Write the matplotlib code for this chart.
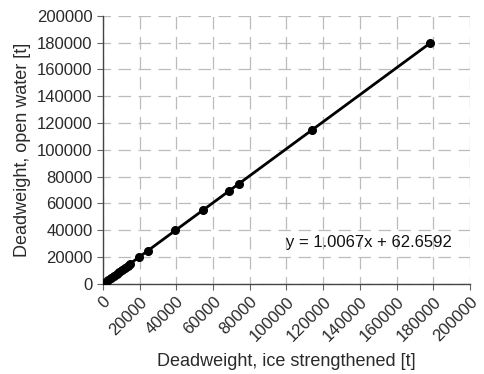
import matplotlib
matplotlib.use("Agg")
import matplotlib.pyplot as plt
import numpy as np

plt.rcParams['font.family'] = ['Liberation Sans', 'DejaVu Sans']

# Deadweight of ice-strengthened ships vs. open-water equivalents [t]
ice_dwt = [1500, 3000, 4500, 6000, 7500, 9000, 10500, 12000, 13500, 15000,
           19500, 24500, 39500, 54500, 69000, 74000, 113800, 178500]
slope = 1.0067
intercept = 62.6592
open_dwt = [slope * x + intercept for x in ice_dwt]

ticks = list(range(0, 200001, 20000))

fig = plt.figure(figsize=(4.85, 3.74), dpi=100)
ax = fig.add_axes([0.212, 0.241, 0.757, 0.717])

ax.plot(ice_dwt, open_dwt, color='black', lw=2, marker='o', ms=5.5, zorder=3)

ax.set_xlim(0, 200000)
ax.set_ylim(0, 200000)
ax.set_xticks(ticks)
ax.set_yticks(ticks)
ax.set_xticklabels([str(t) for t in ticks], rotation=45, ha='right',
                   rotation_mode='anchor', fontsize=12, color='#2a2a2a')
ax.set_yticklabels([str(t) for t in ticks], fontsize=12, color='#2a2a2a')
ax.tick_params(direction='out', length=4, width=0.8, color='#666666')

ax.grid(True, color='#bbbbbb', linestyle=(4, (10, 6)), lw=0.9)
ax.set_axisbelow(True)
for side in ('top', 'right'):
    ax.spines[side].set_visible(False)
for side in ('left', 'bottom'):
    ax.spines[side].set_color('#444444')
    ax.spines[side].set_linewidth(1.0)

ax.set_xlabel('Deadweight, ice strengthened [t]', fontsize=13, color='#2a2a2a', labelpad=6)
ax.set_ylabel('Deadweight, open water [t]', fontsize=13, color='#2a2a2a', labelpad=4)

ax.text(0.5, 0.155, 'y = 1.0067x + 62.6592', transform=ax.transAxes,
        fontsize=12, color='#111111', ha='left', va='center')

fig.savefig('out.png', dpi=100)
